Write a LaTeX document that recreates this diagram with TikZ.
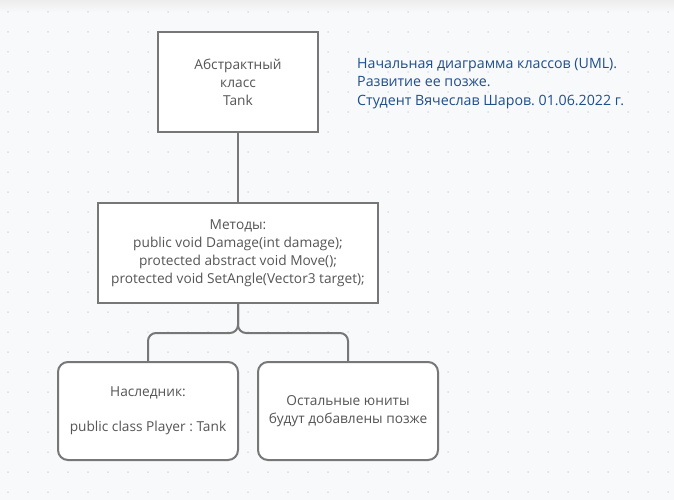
\documentclass[tikz,border=0pt]{standalone}
\usepackage{fontspec}
\setmainfont{Open Sans}
\frenchspacing
\definecolor{bg}{HTML}{F8F9FB}
\definecolor{griddot}{HTML}{DDDFE3}
\definecolor{edge}{HTML}{777777}
\definecolor{txt}{HTML}{555555}
\definecolor{note}{HTML}{1E4E8C}
\tikzset{
  classbox/.style={draw=edge, line width=2pt, fill=white, text=txt, align=center,
    font=\fontsize{13.7}{18}\selectfont\frenchspacing, inner sep=0pt},
  roundbox/.style={classbox, rounded corners=10pt},
  link/.style={draw=edge, line width=2pt},
}
\begin{document}
\begin{tikzpicture}[x=1pt,y=-1pt]
\useasboundingbox (0,0) rectangle (674,500);
\fill[bg] (0,0) rectangle (674,500);
\shade[top color=black!7, bottom color=bg] (0,0) rectangle (674,12);
\foreach \i in {0,...,33} {
  \foreach \j in {0,...,24} {
    \fill[griddot] (8+20*\i,12+20*\j) circle (1pt);
  }
}
\node[classbox, minimum width=160pt, minimum height=100pt] (tank) at (238,82)
  {Абстрактный\\класс\\Tank};
\node[classbox, minimum width=280pt, minimum height=100pt] (methods) at (238,253)
  {Методы:\\public void Damage(int damage);\\protected abstract void Move();\\protected void SetAngle(Vector3 target);};
\node[roundbox, minimum width=180pt, minimum height=98pt] (player) at (148,411)
  {Наследник:\\[17pt]public class Player : Tank};
\node[roundbox, minimum width=180pt, minimum height=98pt] (others) at (348,411)
  {Остальные юниты\\будут добавлены позже};
\node[anchor=north west, align=left, text=note, inner sep=0pt,
  font=\fontsize{14.2}{18.5}\selectfont\frenchspacing] (notetext) at (357,58)
  {Начальная диаграмма классов (UML).\\Развитие ее позже.\\Студент Вячеслав Шаров. 01.06.2022 г.};
\coordinate (split) at (238,333);
\draw[link] (tank.south) -- (methods.north);
\draw[link, rounded corners=8pt] (methods.south) -- (split) -| (player.north);
\draw[link, rounded corners=8pt] (methods.south) -- (split) -| (others.north);
\end{tikzpicture}
\end{document}
